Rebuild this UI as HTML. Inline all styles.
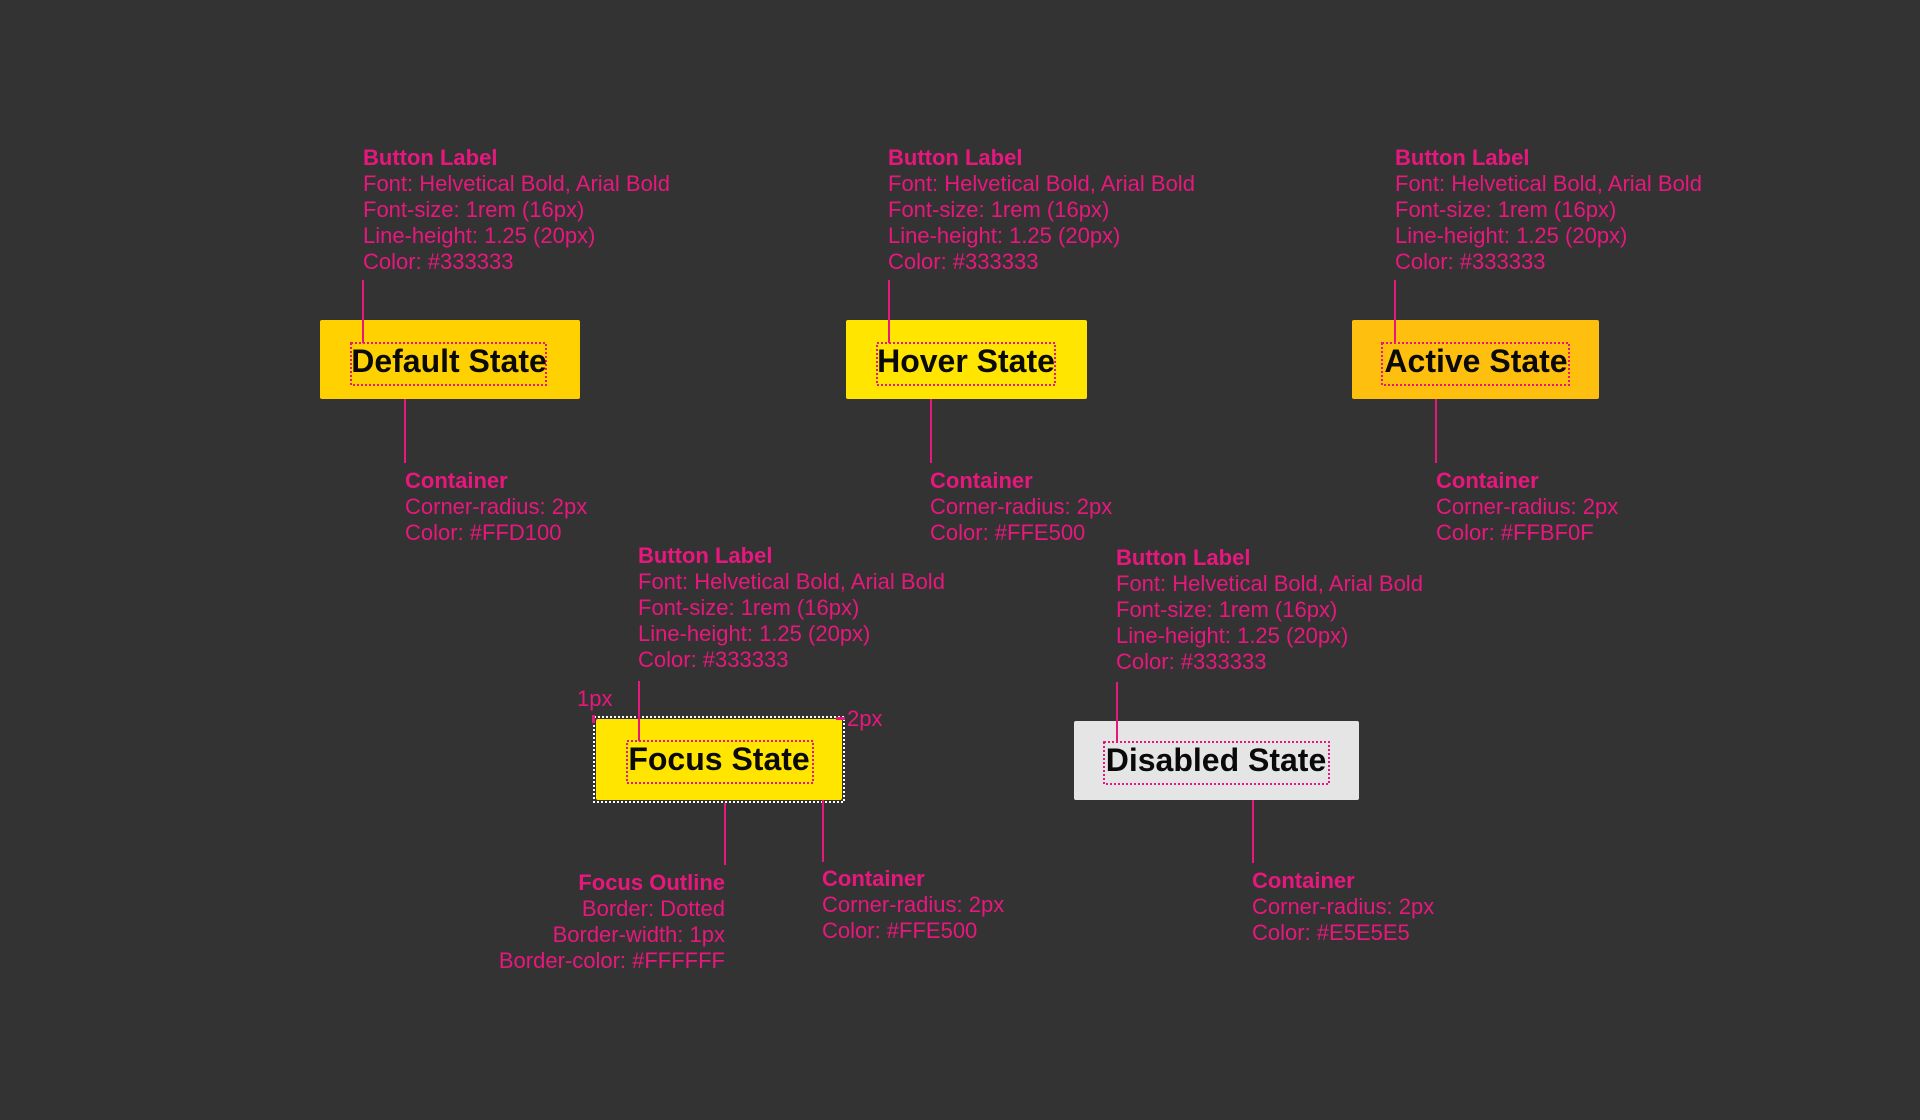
<!DOCTYPE html>
<html><head><meta charset="utf-8"><style>
html,body{margin:0;padding:0;background:#333333;}
svg{display:block}
text{font-family:"Liberation Sans",Arial,sans-serif;}
.a{fill:#E8177E;font-size:22px;}
.b{font-weight:bold;}
.btn{font-size:32px;font-weight:bold;fill:#0a0a0a;}
.ln{stroke:#E8177E;stroke-width:2;}
.dot{fill:none;stroke:#E8177E;stroke-width:2;stroke-dasharray:2,2;}
</style></head><body>
<svg width="1920" height="1120" viewBox="0 0 1920 1120" xmlns="http://www.w3.org/2000/svg">
<rect width="1920" height="1120" fill="#333333"/>

<!-- Default -->
<g>
<text class="a" x="363" y="165"><tspan class="b">Button Label</tspan><tspan x="363" dy="26">Font: Helvetical Bold, Arial Bold</tspan><tspan x="363" dy="26">Font-size: 1rem (16px)</tspan><tspan x="363" dy="26">Line-height: 1.25 (20px)</tspan><tspan x="363" dy="26">Color: #333333</tspan></text>
<rect x="320" y="320" width="260" height="79" rx="2" fill="#FFD100"/>
<rect class="dot" x="351" y="343" width="195" height="42"/>
<text class="btn" x="449" y="372" text-anchor="middle">Default State</text>
<line class="ln" x1="363" y1="280" x2="363" y2="343"/>
<line class="ln" x1="405" y1="399" x2="405" y2="463"/>
<text class="a" x="405" y="488"><tspan class="b">Container</tspan><tspan x="405" dy="26">Corner-radius: 2px</tspan><tspan x="405" dy="26">Color: #FFD100</tspan></text>
</g>

<!-- Hover -->
<g>
<text class="a" x="888" y="165"><tspan class="b">Button Label</tspan><tspan x="888" dy="26">Font: Helvetical Bold, Arial Bold</tspan><tspan x="888" dy="26">Font-size: 1rem (16px)</tspan><tspan x="888" dy="26">Line-height: 1.25 (20px)</tspan><tspan x="888" dy="26">Color: #333333</tspan></text>
<rect x="846" y="320" width="241" height="79" rx="2" fill="#FFE500"/>
<rect class="dot" x="877" y="343" width="178" height="42"/>
<text class="btn" x="966" y="372" text-anchor="middle">Hover State</text>
<line class="ln" x1="889" y1="280" x2="889" y2="343"/>
<line class="ln" x1="931" y1="399" x2="931" y2="463"/>
<text class="a" x="930" y="488"><tspan class="b">Container</tspan><tspan x="930" dy="26">Corner-radius: 2px</tspan><tspan x="930" dy="26">Color: #FFE500</tspan></text>
</g>

<!-- Active -->
<g>
<text class="a" x="1395" y="165"><tspan class="b">Button Label</tspan><tspan x="1395" dy="26">Font: Helvetical Bold, Arial Bold</tspan><tspan x="1395" dy="26">Font-size: 1rem (16px)</tspan><tspan x="1395" dy="26">Line-height: 1.25 (20px)</tspan><tspan x="1395" dy="26">Color: #333333</tspan></text>
<rect x="1352" y="320" width="247" height="79" rx="2" fill="#FFBF0F"/>
<rect class="dot" x="1382" y="343" width="187" height="42"/>
<text class="btn" x="1476" y="372" text-anchor="middle">Active State</text>
<line class="ln" x1="1395" y1="280" x2="1395" y2="343"/>
<line class="ln" x1="1436" y1="399" x2="1436" y2="463"/>
<text class="a" x="1436" y="488"><tspan class="b">Container</tspan><tspan x="1436" dy="26">Corner-radius: 2px</tspan><tspan x="1436" dy="26">Color: #FFBF0F</tspan></text>
</g>

<!-- Focus -->
<g>
<text class="a" x="638" y="563"><tspan class="b">Button Label</tspan><tspan x="638" dy="26">Font: Helvetical Bold, Arial Bold</tspan><tspan x="638" dy="26">Font-size: 1rem (16px)</tspan><tspan x="638" dy="26">Line-height: 1.25 (20px)</tspan><tspan x="638" dy="26">Color: #333333</tspan></text>
<rect x="596" y="719" width="246" height="81" rx="2" fill="#FFE500"/>
<rect x="594" y="717" width="250" height="85" fill="none" stroke="#ffffff" stroke-width="2" stroke-dasharray="2,2"/>
<rect class="dot" x="627" y="741" width="186" height="42"/>
<text class="btn" x="719" y="770" text-anchor="middle">Focus State</text>
<line class="ln" x1="639" y1="681" x2="639" y2="741"/>
<line class="ln" x1="725" y1="803" x2="725" y2="865"/>
<line class="ln" x1="823" y1="800" x2="823" y2="862"/>
<rect x="592" y="715" width="3" height="8" fill="#E8177E"/>
<rect x="836" y="717" width="9" height="3" fill="#E8177E"/>
<text class="a" x="577" y="706">1px</text>
<text class="a" x="847" y="726">2px</text>
<text class="a" x="725" y="890" text-anchor="end"><tspan class="b">Focus Outline</tspan><tspan x="725" dy="26">Border: Dotted</tspan><tspan x="725" dy="26">Border-width: 1px</tspan><tspan x="725" dy="26">Border-color: #FFFFFF</tspan></text>
<text class="a" x="822" y="886"><tspan class="b">Container</tspan><tspan x="822" dy="26">Corner-radius: 2px</tspan><tspan x="822" dy="26">Color: #FFE500</tspan></text>
</g>

<!-- Disabled -->
<g>
<text class="a" x="1116" y="565"><tspan class="b">Button Label</tspan><tspan x="1116" dy="26">Font: Helvetical Bold, Arial Bold</tspan><tspan x="1116" dy="26">Font-size: 1rem (16px)</tspan><tspan x="1116" dy="26">Line-height: 1.25 (20px)</tspan><tspan x="1116" dy="26">Color: #333333</tspan></text>
<rect x="1074" y="721" width="285" height="79" rx="2" fill="#E5E5E5"/>
<rect class="dot" x="1104" y="742" width="225" height="42"/>
<text class="btn" x="1216" y="771" text-anchor="middle">Disabled State</text>
<line class="ln" x1="1117" y1="682" x2="1117" y2="742"/>
<line class="ln" x1="1253" y1="800" x2="1253" y2="863"/>
<text class="a" x="1252" y="888"><tspan class="b">Container</tspan><tspan x="1252" dy="26">Corner-radius: 2px</tspan><tspan x="1252" dy="26">Color: #E5E5E5</tspan></text>
</g>
</svg>
</body></html>
